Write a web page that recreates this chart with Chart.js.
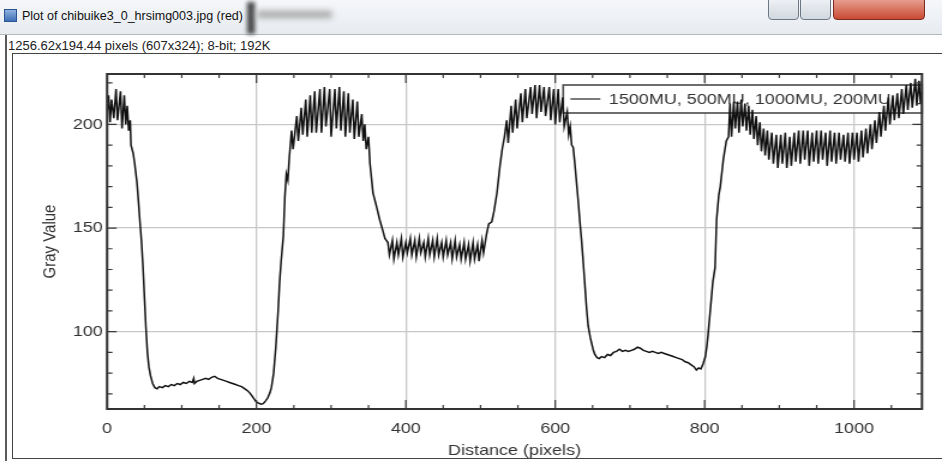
<!DOCTYPE html>
<html>
<head>
<meta charset="utf-8">
<title>Plot of chibuike3_0_hrsimg003.jpg (red)</title>
<script src="https://cdn.jsdelivr.net/npm/chart.js"></script>
<style>
  html, body { margin: 0; padding: 0; }
  body {
    width: 942px; height: 461px; overflow: hidden; position: relative;
    background: #fff; font-family: "Liberation Sans", Arial, sans-serif;
  }
  #titlebar {
    position: absolute; left: 0; top: 0; width: 942px; height: 34px;
    background: linear-gradient(#f5f7fa, #e7ebf0);
    border-bottom: 1px solid #b4b9bf;
  }
  #icon {
    position: absolute; left: 4px; top: 9px; width: 11px; height: 11px;
    background: linear-gradient(#8fb2e0, #3f6fb5); border: 1px solid #2b5592;
  }
  #wintitle { position: absolute; left: 22px; top: 9px; font-size: 12.5px; color: #111; }
  #behind1 { position: absolute; left: 247px; top: 2px; width: 8px; height: 32px; background: #4d4d4d; filter: blur(2px); }
  #behind2 { position: absolute; left: 257px; top: 11px; width: 75px; height: 7px; background: #a6a6a6; filter: blur(3px); }
  .btn {
    position: absolute; top: -6px; height: 26px; box-sizing: border-box;
    border: 1px solid #6d7884; border-radius: 0 0 4px 4px;
    background: linear-gradient(#f4f6f9, #d2d8e0);
  }
  #bmin { left: 768px; width: 31px; }
  #bmax { left: 800px; width: 31px; }
  #bclose { left: 833px; width: 92px; border-color: #7a2b20; background: linear-gradient(#efb3a6, #c94a33); }
  #status { position: absolute; left: 8px; top: 38px; font-size: 13px; color: #222; }
  #edge { position: absolute; left: 5px; top: 35px; width: 2px; height: 426px; background: #5a5a5a; }
  #panel {
    position: absolute; left: 12px; top: 53px; width: 935px; height: 406px;
    border: 1px solid #444; box-sizing: border-box;
  }
  #plotwrap {
    position: absolute; left: 0; top: 0; width: 785px; height: 461px;
    transform-origin: 0 0; transform: scaleX(1.2);
  }
</style>
</head>
<body>
<div id="titlebar">
  <div id="icon"></div>
  <div id="wintitle">Plot of chibuike3_0_hrsimg003.jpg (red)</div>
  <div id="behind1"></div>
  <div id="behind2"></div>
  <div class="btn" id="bmin"></div>
  <div class="btn" id="bmax"></div>
  <div class="btn" id="bclose"></div>
</div>
<div id="status">1256.62x194.44 pixels (607x324); 8-bit; 192K</div>
<div id="edge"></div>
<div id="panel"></div>
<div id="plotwrap"><canvas id="plot"></canvas></div>

<script>
// profile along the line: distance (pixels) and red-channel gray value
const distance = [
  0, 2, 4, 6, 9, 12, 14, 18, 20, 23, 25, 27, 29, 31, 32, 35, 37, 40, 42, 44,
  46, 48, 50, 52, 54, 56, 58, 61, 64, 67, 70, 74, 78, 82, 86, 90, 94, 98, 102, 106,
  110, 114, 116, 117, 120, 124, 128, 132, 136, 140, 144, 148, 152, 156, 160, 164, 168, 172, 176, 180,
  184, 188, 191, 194, 197, 200, 203, 206, 209, 212, 215, 218, 220, 223, 226, 229, 231, 233, 236, 238,
  240, 242, 244, 247, 249, 254, 256, 260, 262, 266, 268, 272, 274, 278, 280, 285, 287, 291, 293, 298,
  300, 305, 307, 311, 313, 317, 319, 323, 325, 329, 331, 335, 337, 341, 343, 345, 347, 350, 352, 356,
  361, 365, 369, 372, 376, 378, 382, 384, 388, 390, 394, 396, 400, 402, 406, 408, 412, 414, 418, 420,
  424, 426, 430, 432, 436, 438, 442, 444, 448, 450, 454, 456, 460, 462, 466, 468, 472, 474, 478, 480,
  484, 486, 490, 492, 496, 498, 502, 504, 508, 511, 515, 518, 522, 526, 529, 532, 535, 537, 541, 543,
  547, 549, 554, 556, 560, 562, 567, 569, 573, 575, 579, 581, 585, 587, 592, 594, 598, 600, 604, 606,
  610, 612, 616, 618, 620, 622, 624, 626, 629, 631, 633, 635, 637, 640, 642, 644, 647, 649, 651, 653,
  656, 659, 662, 666, 670, 674, 678, 682, 686, 690, 694, 698, 702, 706, 710, 714, 718, 722, 726, 730,
  734, 738, 742, 746, 750, 754, 758, 762, 766, 770, 774, 778, 782, 786, 789, 792, 795, 798, 801, 803,
  805, 808, 811, 814, 816, 819, 821, 825, 829, 832, 834, 836, 839, 841, 844, 846, 849, 851, 854, 856,
  859, 861, 864, 866, 869, 871, 874, 876, 879, 881, 884, 886, 890, 892, 896, 898, 902, 904, 908, 910,
  914, 916, 920, 922, 926, 928, 932, 934, 938, 940, 944, 946, 950, 952, 956, 958, 962, 964, 968, 970,
  974, 976, 980, 982, 986, 988, 992, 994, 998, 1000, 1004, 1006, 1010, 1012, 1016, 1018, 1022, 1024, 1028, 1030,
  1034, 1036, 1040, 1042, 1046, 1048, 1052, 1054, 1058, 1060, 1064, 1066, 1070, 1072, 1076, 1078, 1082, 1084, 1087, 1089,
  1091
];
const grayValue = [
  206, 214, 201, 212, 203, 217, 202, 216, 198, 214, 200, 209, 197, 202, 190, 186, 181, 172, 163, 153,
  144, 132, 117, 102, 90, 83, 79, 75, 73, 72.5, 73.5, 73, 74, 73.5, 74.5, 74, 75, 74.5, 75.5, 75,
  76, 75.5, 77.5, 75, 76, 76.5, 77, 77.5, 77, 78, 78.5, 77.5, 77, 76.5, 76, 75.5, 75, 74.5, 74, 73.5,
  72.5, 71.5, 70.5, 69, 67.5, 66, 65.5, 65, 65.3, 66.5, 68, 70.5, 73, 80, 93, 110, 124, 134, 146, 165,
  176, 173, 184, 197, 188, 204, 192, 208, 195, 212, 194, 214, 196, 216, 196, 217, 196, 218, 199, 217,
  194, 217, 198, 218, 197, 216, 194, 215, 196, 212, 193, 211, 194, 205, 192, 200, 188, 194, 181, 167,
  160, 154, 149, 145, 143, 137, 144, 135, 143, 137, 145, 136, 143, 138, 145, 137, 144, 136, 145, 138,
  143, 136, 145, 137, 144, 136, 145, 137, 143, 136, 144, 137, 143, 135, 144, 136, 142, 135, 143, 135,
  142, 134, 143, 135, 142, 134, 144, 138, 147, 152, 153, 158, 167, 180, 188, 194, 202, 191, 209, 196,
  212, 198, 215, 201, 217, 203, 218, 205, 219, 203, 219, 206, 218, 204, 218, 202, 217, 200, 217, 201,
  213, 199, 206, 195, 199, 190, 189, 182, 170, 162, 153, 145, 136, 121, 111, 103, 97, 94, 91, 89,
  87.5, 87, 88, 87.5, 89, 88.5, 90, 90.5, 91.5, 90.5, 91, 90.5, 91, 91.5, 92.5, 92, 91, 90.5, 90, 90.5,
  90, 89.5, 90, 89.5, 89, 88.5, 88, 87.5, 87, 86.5, 85.5, 85, 84, 83, 81.5, 82.5, 82, 84.5, 88, 93,
  100, 112, 124, 131, 154, 166, 170, 183, 192, 194, 210, 194, 211, 198, 211, 196, 212, 199, 210, 197,
  209, 195, 207, 193, 204, 190, 201, 187, 198, 185, 197, 183, 196, 181, 195, 179, 195, 181, 196, 179,
  194, 180, 196, 182, 197, 181, 197, 183, 197, 180, 196, 182, 197, 181, 197, 183, 196, 180, 197, 182,
  196, 181, 196, 183, 195, 182, 196, 181, 196, 183, 196, 182, 197, 184, 198, 186, 200, 188, 202, 191,
  206, 194, 209, 197, 213, 200, 214, 202, 215, 203, 217, 205, 219, 207, 220, 208, 222, 209, 221, 210,
  216
];
const seriesLabel = '1500MU, 500MU, 1000MU, 200MU';
const xTicks = [0, 200, 400, 600, 800, 1000];
const yTicks = [100, 150, 200];
const xRange = [0, 1091];
const yRange = [62.7, 224.3];

Chart.defaults.font.family = '"Liberation Sans", Arial, sans-serif';
Chart.defaults.font.size = 15;
Chart.defaults.color = '#333';

// ImageJ style: framed plot, inward major/minor ticks, legend box inside the frame
const imagejFrame = {
  id: 'imagejFrame',
  beforeDatasetsDraw(chart) {
    const {ctx, chartArea: a} = chart;
    const w = 299, h = 28, top = a.top + 11, left = a.right - w;
    ctx.save();
    ctx.fillStyle = '#fff';
    ctx.fillRect(left, top, w, h);
    ctx.strokeStyle = '#4a4a4a';
    ctx.lineWidth = 1.6;
    ctx.strokeRect(left, top, w, h);
    ctx.strokeStyle = '#222';
    ctx.lineWidth = 1.2;
    ctx.beginPath();
    ctx.moveTo(left + 6, top + 14);
    ctx.lineTo(left + 31, top + 14);
    ctx.stroke();
    ctx.fillStyle = '#333';
    ctx.font = '15px "Liberation Sans", Arial, sans-serif';
    ctx.textBaseline = 'middle';
    ctx.fillText(chart.data.datasets[0].label, left + 38, top + 15);
    ctx.restore();
  },
  afterDatasetsDraw(chart) {
    const {ctx, chartArea: a, scales: {x, y}} = chart;
    ctx.save();
    ctx.strokeStyle = '#3a3a3a';
    ctx.lineWidth = 1.2;
    ctx.beginPath();
    for (let v = 50; v < x.max; v += 50) {
      const px = x.getPixelForValue(v);
      const len = v % 200 === 0 ? 9 : 4;
      ctx.moveTo(px, a.bottom); ctx.lineTo(px, a.bottom - len);
      ctx.moveTo(px, a.top); ctx.lineTo(px, a.top + len);
    }
    for (let v = 70; v < y.max; v += 10) {
      const py = y.getPixelForValue(v);
      const len = v % 50 === 0 ? 8 : 4.5;
      ctx.moveTo(a.left, py); ctx.lineTo(a.left + len, py);
      ctx.moveTo(a.right, py); ctx.lineTo(a.right - len, py);
    }
    ctx.stroke();
    ctx.lineWidth = 2;
    ctx.strokeStyle = '#333';
    ctx.strokeRect(a.left, a.top, a.right - a.left, a.bottom - a.top);
    ctx.restore();
  }
};

new Chart(document.getElementById('plot'), {
  type: 'line',
  data: {
    datasets: [{
      label: seriesLabel,
      data: distance.map((d, i) => ({x: d, y: grayValue[i]})),
      borderColor: '#111',
      borderWidth: 1.5,
      pointRadius: 0,
      tension: 0,
      fill: false
    }]
  },
  options: {
    responsive: true,
    maintainAspectRatio: false,
    animation: false,
    devicePixelRatio: 1,
    events: [],
    layout: {padding: {top: 74, right: 16.7, bottom: 0, left: 0}},
    plugins: {legend: {display: false}, tooltip: {enabled: false}},
    scales: {
      x: {
        type: 'linear',
        min: xRange[0],
        max: xRange[1],
        afterBuildTicks: s => { s.ticks = xTicks.map(v => ({value: v})); },
        afterFit: s => { s.height = 52; },
        grid: {color: '#c8c8c8', lineWidth: 1.3, drawTicks: false},
        border: {display: false},
        ticks: {padding: 11, maxRotation: 0, autoSkip: false, callback: v => String(v)},
        title: {display: true, text: 'Distance (pixels)', padding: {top: 0, bottom: 1}}
      },
      y: {
        type: 'linear',
        min: yRange[0],
        max: yRange[1],
        afterBuildTicks: s => { s.ticks = yTicks.map(v => ({value: v})); },
        afterFit: s => { s.width = 89.2; },
        grid: {color: '#c8c8c8', lineWidth: 1.3, drawTicks: false},
        border: {display: false},
        ticks: {padding: 3.5, callback: v => String(v)},
        title: {display: true, text: 'Gray Value', padding: {top: 32.7, bottom: 0}}
      }
    }
  },
  plugins: [imagejFrame]
});
</script>
</body>
</html>
